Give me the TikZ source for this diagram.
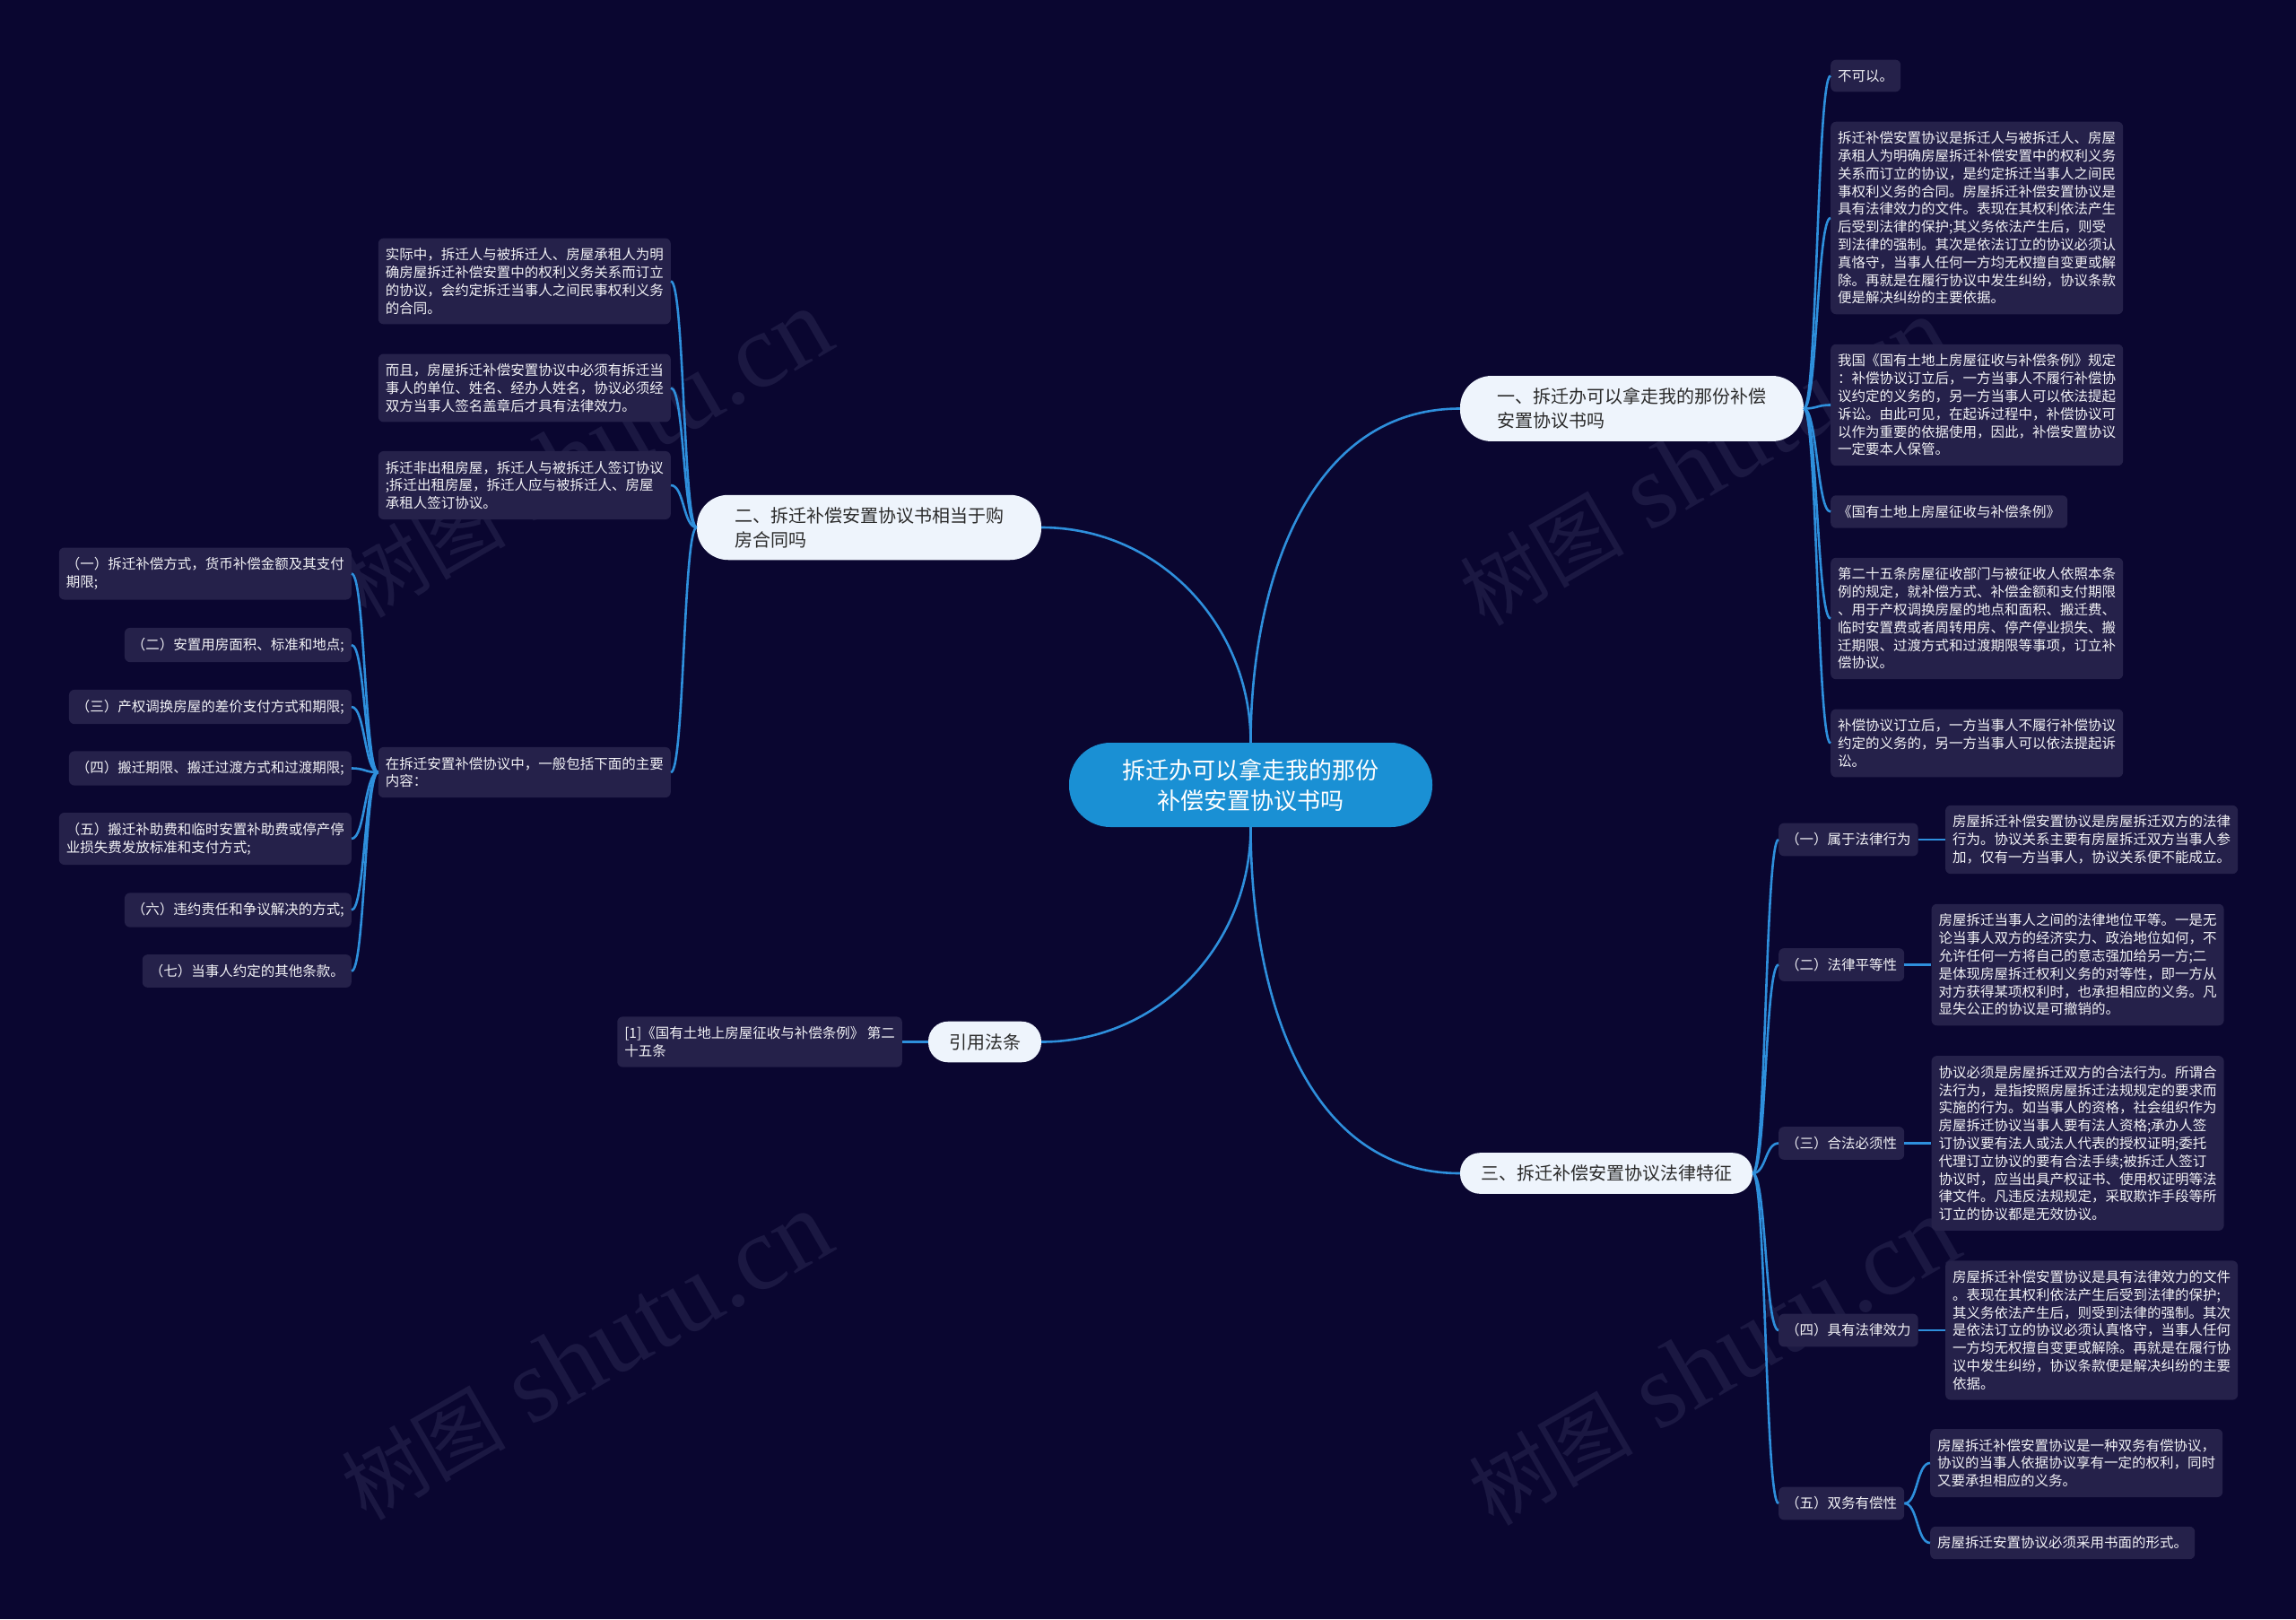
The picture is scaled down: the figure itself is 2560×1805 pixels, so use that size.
\documentclass[tikz,border=0pt]{standalone}
\usepackage{fontspec}
\setmainfont{Noto Sans CJK SC}
\newfontfamily\wmlatin{Liberation Serif}
\usepackage{xcolor}
\usepackage{tikz}
\usetikzlibrary{positioning}

\definecolor{bgnavy}{HTML}{0A0630}
\definecolor{leafbg}{HTML}{25214A}
\definecolor{linkblue}{HTML}{2E8FDC}
\definecolor{rootblue}{HTML}{1A90D4}
\definecolor{pillbg}{HTML}{EEF4FC}
\definecolor{pilltext}{HTML}{2B2B2B}
\definecolor{leaftext}{HTML}{F2F2F6}
\definecolor{wmgray}{HTML}{1B1842}

\begin{document}
\begin{tikzpicture}[x=1pt, y=-1pt,
    root/.style={fill=rootblue, text=white, rounded corners=46pt, minimum width=405pt, minimum height=94pt, align=center, font=\fontsize{26}{34}\selectfont},
    branch/.style={fill=pillbg, text=pilltext, rounded corners=22pt, inner xsep=23pt, inner ysep=13.5pt, align=left, font=\fontsize{20}{27}\selectfont},
    leaf/.style={fill=leafbg, text=leaftext, rounded corners=6pt, inner xsep=8pt, inner ysep=11pt, align=left, font=\fontsize{15.5}{19.8}\selectfont},
    link/.style={draw=linkblue, line width=2.6pt},
    wmark/.style={text=wmgray, rotate=30, inner sep=0pt},
]

% 背景
\path[use as bounding box, fill=bgnavy] (0,0) rectangle (2560,1805);

% 水印
\foreach \wx/\wy [count=\i] in {653/506, 1900/515, 653/1512, 1910/1518}
  \node[wmark] (wm\i) at (\wx,\wy) {{\fontsize{92}{92}\selectfont 树图}\hspace{28pt}{\wmlatin\fontsize{118}{118}\selectfont shutu.cn}};

% 中心主题
\node[root] (root) at (1394.5, 875) {拆迁办可以拿走我的那份\\补偿安置协议书吗};

% 分支
\node[branch, rounded corners=35pt, minimum width=383pt] (b1) at (1819.5, 455.5) {一、拆迁办可以拿走我的那份补偿\\安置协议书吗};
\node[branch, rounded corners=35pt, minimum width=384pt] (b2) at (969, 588) {二、拆迁补偿安置协议书相当于购\\房合同吗};
\node[branch] (b3) at (1098, 1161.5) {引用法条};
\node[branch] (b4) at (1791, 1308) {三、拆迁补偿安置协议法律特征};

% 分支一
\node[leaf, anchor=west] (a1) at (2041, 84.5) {不可以。};
\node[leaf, anchor=west] (a2) at (2041, 243) {拆迁补偿安置协议是拆迁人与被拆迁人、房屋\\承租人为明确房屋拆迁补偿安置中的权利义务\\关系而订立的协议，是约定拆迁当事人之间民\\事权利义务的合同。房屋拆迁补偿安置协议是\\具有法律效力的文件。表现在其权利依法产生\\后受到法律的保护;其义务依法产生后，则受\\到法律的强制。其次是依法订立的协议必须认\\真恪守，当事人任何一方均无权擅自变更或解\\除。再就是在履行协议中发生纠纷，协议条款\\便是解决纠纷的主要依据。};
\node[leaf, anchor=west] (a3) at (2041, 451.5) {我国《国有土地上房屋征收与补偿条例》规定\\：补偿协议订立后，一方当事人不履行补偿协\\议约定的义务的，另一方当事人可以依法提起\\诉讼。由此可见，在起诉过程中，补偿协议可\\以作为重要的依据使用，因此，补偿安置协议\\一定要本人保管。};
\node[leaf, anchor=west] (a4) at (2041, 570.5) {《国有土地上房屋征收与补偿条例》};
\node[leaf, anchor=west] (a5) at (2041, 689.5) {第二十五条房屋征收部门与被征收人依照本条\\例的规定，就补偿方式、补偿金额和支付期限\\、用于产权调换房屋的地点和面积、搬迁费、\\临时安置费或者周转用房、停产停业损失、搬\\迁期限、过渡方式和过渡期限等事项，订立补\\偿协议。};
\node[leaf, anchor=west] (a6) at (2041, 828.5) {补偿协议订立后，一方当事人不履行补偿协议\\约定的义务的，另一方当事人可以依法提起诉\\讼。};

% 分支二
\node[leaf, anchor=east] (c1) at (748, 313.5) {实际中，拆迁人与被拆迁人、房屋承租人为明\\确房屋拆迁补偿安置中的权利义务关系而订立\\的协议，会约定拆迁当事人之间民事权利义务\\的合同。};
\node[leaf, anchor=east] (c2) at (748, 432.5) {而且，房屋拆迁补偿安置协议中必须有拆迁当\\事人的单位、姓名、经办人姓名，协议必须经\\双方当事人签名盖章后才具有法律效力。};
\node[leaf, anchor=east] (c3) at (748, 541) {拆迁非出租房屋，拆迁人与被拆迁人签订协议\\;拆迁出租房屋，拆迁人应与被拆迁人、房屋\\承租人签订协议。};
\node[leaf, anchor=east] (c4) at (748, 861) {在拆迁安置补偿协议中，一般包括下面的主要\\内容：};

\node[leaf, anchor=east] (d1) at (392, 639.5) {（一）拆迁补偿方式，货币补偿金额及其支付\\期限;};
\node[leaf, anchor=east] (d2) at (392, 719) {（二）安置用房面积、标准和地点;};
\node[leaf, anchor=east] (d3) at (392, 788) {（三）产权调换房屋的差价支付方式和期限;};
\node[leaf, anchor=east] (d4) at (392, 856.5) {（四）搬迁期限、搬迁过渡方式和过渡期限;};
\node[leaf, anchor=east] (d5) at (392, 935) {（五）搬迁补助费和临时安置补助费或停产停\\业损失费发放标准和支付方式;};
\node[leaf, anchor=east] (d6) at (392, 1014.5) {（六）违约责任和争议解决的方式;};
\node[leaf, anchor=east] (d7) at (392, 1082.5) {（七）当事人约定的其他条款。};

% 引用法条
\node[leaf, anchor=east] (e1) at (1006, 1161.5) {[1]《国有土地上房屋征收与补偿条例》 第二\\十五条};

% 分支三
\node[leaf, anchor=west] (s1) at (1983, 936) {（一）属于法律行为};
\node[leaf, anchor=west] (s2) at (1983, 1075.5) {（二）法律平等性};
\node[leaf, anchor=west] (s3) at (1983, 1274.5) {（三）合法必须性};
\node[leaf, anchor=west] (s4) at (1983, 1483) {（四）具有法律效力};
\node[leaf, anchor=west] (s5) at (1983, 1676) {（五）双务有偿性};

\node[leaf, right=30pt of s1] (f1) {房屋拆迁补偿安置协议是房屋拆迁双方的法律\\行为。协议关系主要有房屋拆迁双方当事人参\\加，仅有一方当事人，协议关系便不能成立。};
\node[leaf, right=30pt of s2] (f2) {房屋拆迁当事人之间的法律地位平等。一是无\\论当事人双方的经济实力、政治地位如何，不\\允许任何一方将自己的意志强加给另一方;二\\是体现房屋拆迁权利义务的对等性，即一方从\\对方获得某项权利时，也承担相应的义务。凡\\显失公正的协议是可撤销的。};
\node[leaf, right=30pt of s3] (f3) {协议必须是房屋拆迁双方的合法行为。所谓合\\法行为，是指按照房屋拆迁法规规定的要求而\\实施的行为。如当事人的资格，社会组织作为\\房屋拆迁协议当事人要有法人资格;承办人签\\订协议要有法人或法人代表的授权证明;委托\\代理订立协议的要有合法手续;被拆迁人签订\\协议时，应当出具产权证书、使用权证明等法\\律文件。凡违反法规规定，采取欺诈手段等所\\订立的协议都是无效协议。};
\node[leaf, right=30pt of s4] (f4) {房屋拆迁补偿安置协议是具有法律效力的文件\\。表现在其权利依法产生后受到法律的保护;\\其义务依法产生后，则受到法律的强制。其次\\是依法订立的协议必须认真恪守，当事人任何\\一方均无权擅自变更或解除。再就是在履行协\\议中发生纠纷，协议条款便是解决纠纷的主要\\依据。};
\node[leaf, anchor=west] (f5) at (2152, 1631) {房屋拆迁补偿安置协议是一种双务有偿协议，\\协议的当事人依据协议享有一定的权利，同时\\又要承担相应的义务。};
\node[leaf, anchor=west] (f6) at (2152, 1720) {房屋拆迁安置协议必须采用书面的形式。};

% 连线
\draw[link] (root.north) .. controls +(0,-172) and +(-172,0) .. (b1.west);
\draw[link] (root.north) .. controls +(0,-131) and +(131,0) .. (b2.east);
\draw[link] (root.south) .. controls +(0,131) and +(131,0) .. (b3.east);
\draw[link] (root.south) .. controls +(0,177) and +(-177,0) .. (b4.west);

\foreach \n in {a1,a2,a3,a4,a5,a6}
  \draw[link] (b1.east) .. controls +(15,0) and +(-15,0) .. (\n.west);
\foreach \n in {c1,c2,c3,c4}
  \draw[link] (b2.west) .. controls +(-15,0) and +(15,0) .. (\n.east);
\foreach \n in {d1,d2,d3,d4,d5,d6,d7}
  \draw[link] (c4.west) .. controls +(-15,0) and +(15,0) .. (\n.east);
\draw[link] (b3.west) -- (e1.east);
\foreach \n in {s1,s2,s3,s4,s5}
  \draw[link] (b4.east) .. controls +(15,0) and +(-15,0) .. (\n.west);
\foreach \i in {1,2,3,4}
  \draw[link] (s\i.east) -- (f\i.west);
\foreach \n in {f5,f6}
  \draw[link] (s5.east) .. controls +(15,0) and +(-15,0) .. (\n.west);

\end{tikzpicture}
\end{document}
